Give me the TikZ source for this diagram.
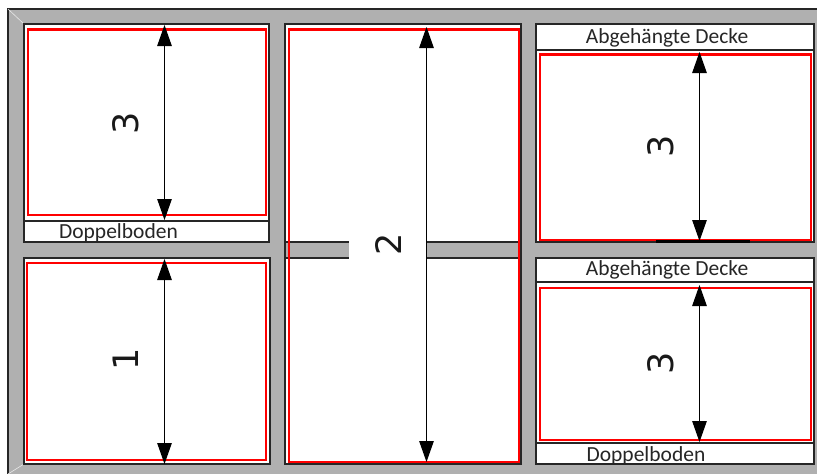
\documentclass[tikz,border=0pt]{standalone}
\usepackage{fontspec}
\setmainfont{Carlito}
\newfontfamily\numfont{DejaVu Sans}
\usetikzlibrary{arrows.meta}
\definecolor{wallgray}{HTML}{B0B0B0}
\definecolor{wallline}{HTML}{262626}
\tikzset{
  room/.style={draw=wallline,fill=white,line width=1.5pt},
  limit/.style={draw=red,line width=2.5pt},
  height/.style={draw=black,line width=1.2pt,{Triangle[length=21pt,width=14.5pt]}-{Triangle[length=21pt,width=14.5pt]},shorten >=0pt,shorten <=0pt},
  nummer/.style={font=\numfont\fontsize{35}{35}\selectfont,rotate=90,text=black!90},
  schild/.style={font=\fontsize{21.5}{22}\selectfont,text=black!85,inner sep=0pt}
}
\begin{document}
\begin{tikzpicture}[x=1pt,y=-1pt]
\useasboundingbox (0,0) rectangle (817,474);
% walls
\fill[white] (0,0) rectangle (817,474);
\fill[wallgray] (8,9) rectangle (817,474);
\draw[wallline,line width=1.5pt] (817,9) -- (8,9) -- (8,474);
\draw[white!70!wallgray,line width=0.6pt] (8,9) -- (24,24);
\draw[white!70!wallgray,line width=0.6pt] (8,474) -- (24,464);
% left column
\draw[room] (24,24) rectangle (269,221);
\draw[room] (24,221) rectangle (269,242);
\draw[room] (24,258) rectangle (270,464);
% middle column
\draw[room] (285,24) rectangle (521,464);
\fill[wallgray] (285.7,242) rectangle (349,258);
\fill[wallgray] (427,242) rectangle (520.3,258);
\draw[wallline,line width=1.2pt] (285,242) -- (349,242);
\draw[wallline,line width=1.2pt] (285,258) -- (349,258);
\draw[wallline,line width=1.2pt] (427,242) -- (521,242);
\draw[wallline,line width=1.2pt] (427,258) -- (521,258);
% right column
\draw[room] (536,24) rectangle (814,50);
\draw[room] (536,50) rectangle (814,242);
\draw[room] (536,258) rectangle (814,282);
\draw[room] (536,282) rectangle (814,443);
\draw[room] (536,443) rectangle (814,464);
% usable space
\draw[limit] (28,29.5) rectangle (266,215);
\draw[limit] (27,263) rectangle (266,460);
\draw[limit] (289,29.5) rectangle (519,462);
\draw[limit] (540,54.5) rectangle (811,240);
\draw[limit] (540,288) rectangle (811,440);
\draw[black,line width=2.5pt] (656,241.5) -- (750,241.5);
% heights
\coordinate (aTop) at (164.5,25);
\coordinate (aBot) at (164.5,220);
\coordinate (bTop) at (164.5,259);
\coordinate (bBot) at (164.5,464);
\coordinate (cTop) at (426.5,27);
\coordinate (cBot) at (426.5,462);
\coordinate (dTop) at (699.5,52);
\coordinate (dBot) at (699.5,241);
\coordinate (eTop) at (699.5,285);
\coordinate (eBot) at (699.5,442);
\draw[height] (aTop) -- (aBot);
\draw[height] (bTop) -- (bBot);
\draw[height] (cTop) -- (cBot);
\draw[height] (dTop) -- (dBot);
\draw[height] (eTop) -- (eBot);
% labels
\path node[nummer] (numA) at (126,123) {3};
\path node[nummer] (numB) at (126,359) {1};
\path node[nummer] (numC) at (389,244) {2};
\path node[nummer] (numD) at (661,146) {3};
\path node[nummer] (numE) at (661,363) {3};
\path node[schild] (bodenA) at (118.5,233) {Doppelboden};
\path node[schild] (bodenB) at (646,455.5) {Doppelboden};
\path node[schild] (deckeA) at (667,37.5) {Abgehängte Decke};
\path node[schild] (deckeB) at (667,270) {Abgehängte Decke};
\end{tikzpicture}
\end{document}
